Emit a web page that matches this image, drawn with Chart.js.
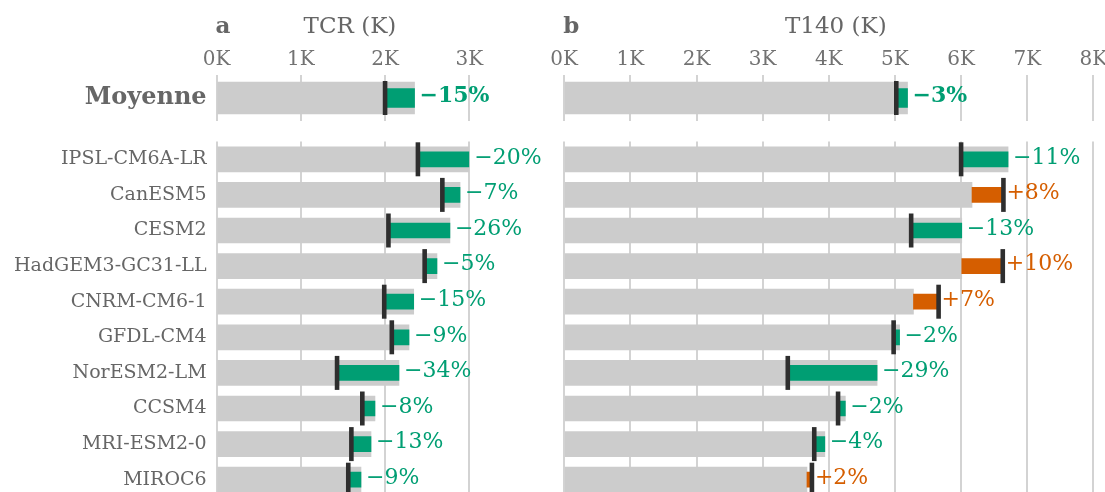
<!DOCTYPE html>
<html><head><meta charset="utf-8">
<script src="https://cdn.jsdelivr.net/npm/chart.js@4.4.0/dist/chart.umd.min.js"></script>
<style>
html,body{margin:0;padding:0;background:#fff;overflow:hidden;width:1105px;height:492px}
#wrap{position:relative;width:1105px;height:492px;overflow:hidden}
canvas{position:absolute}
</style></head><body>
<div id="wrap">
<canvas id="aTop" width="560" height="125" style="left:0px;top:0px"></canvas>
<canvas id="aBot" width="560" height="372" style="left:0px;top:130px"></canvas>
<canvas id="bTop" width="580" height="125" style="left:540px;top:0px"></canvas>
<canvas id="bBot" width="580" height="372" style="left:540px;top:130px"></canvas>
</div>
<script>
// ---------- data ----------
const meanLabel = ['Moyenne'];
const models = ['IPSL-CM6A-LR','CanESM5','CESM2','HadGEM3-GC31-LL','CNRM-CM6-1','GFDL-CM4','NorESM2-LM','CCSM4','MRI-ESM2-0','MIROC6'];

const tcrMeanBefore = [2.35];
const tcrMeanAfter  = [2.00];
const tcrMeanPct    = ['−15%'];
const tcrBefore = [3.00, 2.89, 2.77, 2.616, 2.34, 2.284, 2.165, 1.88, 1.833, 1.714];
const tcrAfter  = [2.39, 2.68, 2.04, 2.47, 1.99, 2.08, 1.43, 1.73, 1.60, 1.563];
const tcrPct    = ['−20%','−7%','−26%','−5%','−15%','−9%','−34%','−8%','−13%','−9%'];

const t140MeanBefore = [5.19];
const t140MeanAfter  = [5.02];
const t140MeanPct    = ['−3%'];
const t140Before = [6.71, 6.165, 6.01, 6.01, 5.28, 5.07, 4.73, 4.25, 3.94, 3.67];
const t140After  = [6.00, 6.64, 5.245, 6.63, 5.66, 4.98, 3.38, 4.14, 3.78, 3.745];
const t140Pct    = ['−11%','+8%','−13%','+10%','+7%','−2%','−29%','−2%','−4%','+2%'];

const tcrTicks  = ['0K','1K','2K','3K'];
const t140Ticks = ['0K','1K','2K','3K','4K','5K','6K','7K','8K'];

// ---------- style ----------
const GREEN = '#009E73', ORANGE = '#D55E00', GREY = '#cccccc', MARK = '#2e2e2e';
const SERIF = '"DejaVu Serif", serif';
const TXT = '#666666';

function labelPlugin(before, after, pct, bold, size) {
  return {
    id: 'valueLabels',
    afterDraw(chart) {
      const {ctx} = chart;
      const xs = chart.scales.x, ys = chart.scales.y;
      ctx.save();
      ctx.font = (bold ? 'bold ' : '') + size + 'px ' + SERIF;
      ctx.textBaseline = 'middle';
      ctx.textAlign = 'left';
      pct.forEach((t, i) => {
        const up = after[i] > before[i];
        const px = xs.getPixelForValue(Math.max(before[i], after[i])) + (up ? 3 : 5);
        const py = ys.getPixelForValue(i) - 1.5;
        ctx.fillStyle = up ? ORANGE : GREEN;
        ctx.fillText(t, px, py);
      });
      ctx.restore();
    }
  };
}

function titlePlugin(letter, title) {
  return {
    id: 'panelTitle',
    afterDraw(chart) {
      const {ctx, chartArea} = chart;
      ctx.save();
      ctx.fillStyle = TXT;
      ctx.textBaseline = 'middle';
      ctx.font = 'bold 23px ' + SERIF;
      ctx.textAlign = 'left';
      ctx.fillText(letter, chartArea.left - 1, 27.5);
      ctx.font = '23px ' + SERIF;
      ctx.textAlign = 'center';
      ctx.fillText(title, (chartArea.left + chartArea.right) / 2 + 7, 27.5);
      ctx.restore();
    }
  };
}

function makeChart(id, o) {
  const top = o.top;
  const plugins = [labelPlugin(o.before, o.after, o.pct, top, 22)];
  if (top) plugins.push(titlePlugin(o.letter, o.title));
  return new Chart(document.getElementById(id), {
    type: 'bar',
    data: {
      labels: o.labels,
      datasets: [
        {
          label: 'base',
          data: o.before.map(v => [0, v]),
          backgroundColor: GREY,
          borderWidth: 0,
          barThickness: top ? 32 : 25,
          grouped: false,
          order: 3
        },
        {
          label: 'change',
          data: o.before.map((v, i) => [Math.min(v, o.after[i]), Math.max(v, o.after[i])]),
          backgroundColor: o.before.map((v, i) => o.after[i] < v ? GREEN : ORANGE),
          borderWidth: 0,
          barThickness: top ? 19 : 15,
          grouped: false,
          order: 2
        },
        {
          type: 'line',
          label: 'new',
          indexAxis: 'y',
          data: o.after,
          showLine: false,
          pointStyle: 'line',
          pointRotation: 90,
          pointRadius: 17,
          pointBorderWidth: 4.6,
          pointBorderColor: MARK,
          pointBackgroundColor: MARK,
          clip: false,
          order: 1
        }
      ]
    },
    options: {
      indexAxis: 'y',
      responsive: false,
      animation: false,
      devicePixelRatio: 1,
      events: [],
      layout: { padding: o.padding, autoPadding: false },
      plugins: { legend: { display: false }, tooltip: { enabled: false } },
      scales: {
        x: {
          type: 'linear',
          position: top ? 'top' : 'bottom',
          min: 0, max: o.max,
          ticks: {
            display: top, stepSize: 1, autoSkip: false, maxRotation: 0,
            callback: (v, i) => o.ticks[i],
            font: { family: SERIF, size: 20 }, color: '#727272', padding: 3
          },
          grid: { color: '#d3d3d3', lineWidth: 2, drawTicks: false },
          border: { display: false },
          afterFit: s => { s.height = top ? 75 : 0; s.paddingLeft = 0; s.paddingRight = 0; }
        },
        y: {
          display: o.showY,
          grid: { display: false, drawTicks: false },
          border: { display: false },
          ticks: {
            font: { family: SERIF, size: top ? 24 : 19, weight: top ? 'bold' : 'normal' },
            color: TXT, padding: 10
          },
          afterFit: s => { s.width = o.showY ? 216.6 : 0; s.paddingTop = 0; s.paddingBottom = 0; }
        }
      }
    },
    plugins
  });
}

makeChart('aTop', { top: true, labels: meanLabel, before: tcrMeanBefore, after: tcrMeanAfter, pct: tcrMeanPct,
  ticks: tcrTicks, max: 3, showY: true, letter: 'a', title: 'TCR (K)',
  padding: { left: 0, right: 90.7, top: 0, bottom: 4 } });
makeChart('aBot', { top: false, labels: models, before: tcrBefore, after: tcrAfter, pct: tcrPct,
  ticks: tcrTicks, max: 3, showY: true,
  padding: { left: 0, right: 90.7, top: 11.5, bottom: 4.5 } });
makeChart('bTop', { top: true, labels: meanLabel, before: t140MeanBefore, after: t140MeanAfter, pct: t140MeanPct,
  ticks: t140Ticks, max: 8, showY: false, letter: 'b', title: 'T140 (K)',
  padding: { left: 24.2, right: 26.6, top: 0, bottom: 4 } });
makeChart('bBot', { top: false, labels: models, before: t140Before, after: t140After, pct: t140Pct,
  ticks: t140Ticks, max: 8, showY: false,
  padding: { left: 24.2, right: 26.6, top: 11.5, bottom: 4.5 } });
</script>
</body></html>
